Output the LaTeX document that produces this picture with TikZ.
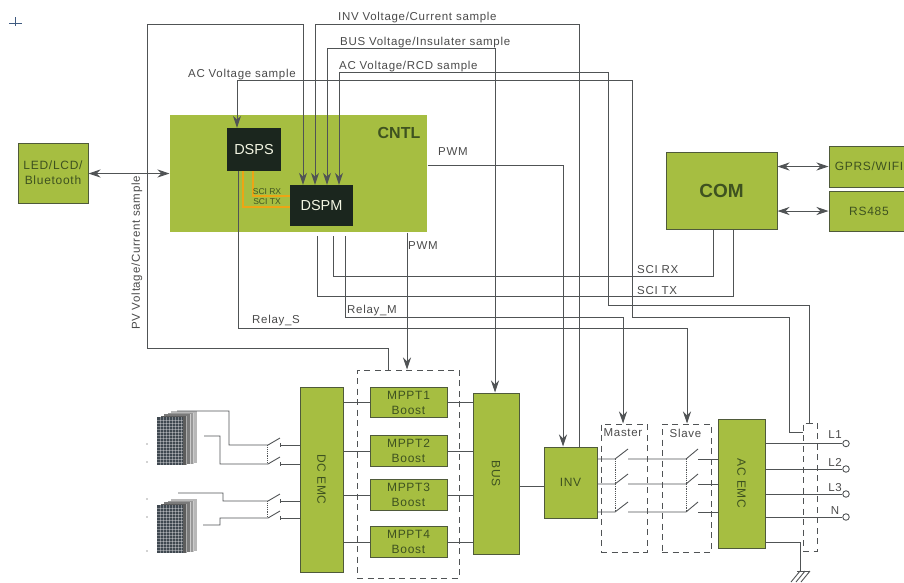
\documentclass[tikz,border=0pt]{standalone}
\usepackage{fontspec}
\setmainfont{Liberation Sans}
\newfontfamily\spacedfont[LetterSpace=6]{Liberation Sans}
\usetikzlibrary{arrows.meta}
\definecolor{boxgreen}{HTML}{A6BE41}
\definecolor{boxedge}{HTML}{4F5A3A}
\definecolor{boxtext}{HTML}{3E5220}
\definecolor{chipblack}{HTML}{1B261E}
\definecolor{wiregray}{HTML}{505355}
\definecolor{labelgray}{HTML}{4A4A4A}
\definecolor{sciorange}{HTML}{EDA515}
\definecolor{panelgray}{HTML}{3F4850}
\definecolor{markblue}{HTML}{3F5A80}
\tikzset{
    greenbox/.style={draw=boxedge, fill=boxgreen, line width=1pt, inner sep=0pt, text=boxtext, align=center, font=\spacedfont\fontsize{12}{15}\selectfont},
    chipbox/.style={fill=chipblack, inner sep=0pt, text=white!85!boxgreen, font=\fontsize{14.5}{17}\selectfont},
    zonebox/.style={draw=wiregray, line width=1pt, dash pattern=on 6pt off 4.5pt, inner sep=0pt},
    sigline/.style={draw=wiregray, line width=0.9pt},
    sciline/.style={draw=sciorange, line width=1.2pt},
    sigtext/.style={text=labelgray, inner sep=0pt, font=\spacedfont\fontsize{11.5}{13}\selectfont},
    outpin/.style={circle, draw=wiregray, line width=0.9pt, fill=white, minimum size=6.5pt, inner sep=0pt},
    pvpanel/.pic={
        \foreach \k/\g in {4/28, 3/40, 2/52, 1/64} {
            \fill[black!\g] (3.5*\k,-1.5*\k) rectangle (26+3.5*\k,48-0.5*\k);
            \draw[white, very thin, opacity=0.5] (26+3.5*\k,-1.5*\k) -- (26+3.5*\k,48-0.5*\k);
        }
        \fill[panelgray] (0,0) rectangle (26,48);
        \foreach \u in {3,6,...,24} {
            \draw[white, line width=0.25pt, opacity=0.35] (\u,0) -- (\u,48);
        }
        \foreach \u in {3,6,...,45} {
            \draw[white, line width=0.25pt, opacity=0.35] (0,\u) -- (26,\u);
        }
    }
}
\begin{document}
\begin{tikzpicture}[x=1pt, y=-1pt, >={Stealth[length=12pt, width=8pt]}]
        \useasboundingbox (0,0) rectangle (904,582);

        % Corner mark
        \draw[markblue, line width=1pt] (9,23) -- (22,23) (15,17) -- (15,26);

        % Upper boxes
        \node[greenbox, minimum width=70pt, minimum height=60pt] (led) at (53,173) {LED/LCD/\\Bluetooth};
        \node[greenbox, draw=none, minimum width=257pt, minimum height=117pt] (cntl) at (298.5,173.5) {};
        \node[chipbox, minimum width=54pt, minimum height=43pt] (dsps) at (254,149.5) {DSPS};
        \node[chipbox, minimum width=63pt, minimum height=41pt] (dspm) at (321.5,205.5) {DSPM};
        \node[text=boxtext, inner sep=0pt, font=\fontsize{16}{18}\selectfont\bfseries] (cntllabel) at (399,133) {CNTL};
        \node[greenbox, font=\fontsize{19}{21}\selectfont\bfseries, minimum width=111pt, minimum height=77pt] (com) at (721.5,190.5) {COM};
        \node[greenbox, minimum width=80pt, minimum height=41pt] (gprs) at (869,166.5) {GPRS/WIFI};
        \node[greenbox, minimum width=80pt, minimum height=40pt] (rs485) at (869,211) {RS485};

        % Lower boxes
        \node[zonebox, minimum width=102pt, minimum height=208pt] (mpptzone) at (408,474) {};
        \node[zonebox, minimum width=46pt, minimum height=128pt] (masterzone) at (624,488) {};
        \node[zonebox, minimum width=49pt, minimum height=128pt] (slavezone) at (686.5,488) {};
        \node[zonebox, minimum width=14pt, minimum height=128pt] (outzone) at (810,487) {};
        \node[greenbox, minimum width=43pt, minimum height=185pt] (dcemc) at (321.5,479.5) {\rotatebox{-90}{DC EMC}};
        \foreach \i/\y in {1/402.5, 2/451, 3/495, 4/542} {
            \node[greenbox, minimum width=77pt, minimum height=30.5pt] (mppt\i) at (408.5,\y) {MPPT\i\\Boost};
            \draw[sigline] (mppt\i.west) -- (dcemc.east |- mppt\i.west);
        }
        \node[greenbox, minimum width=46pt, minimum height=161pt] (bus) at (496,473.5) {\rotatebox{-90}{BUS}};
        \foreach \i in {1,...,4} {
            \draw[sigline] (mppt\i.east) -- (bus.west |- mppt\i.east);
        }
        \node[greenbox, minimum width=53pt, minimum height=71pt] (inv) at (570.5,482.5) {INV};
        \node[greenbox, minimum width=47pt, minimum height=129pt] (acemc) at (741.5,483.5) {\rotatebox{-90}{AC EMC}};
        \draw[sigline] (bus.east |- 0,486) -- (inv.west |- 0,486);
        \node[sigtext] (masterlabel) at (623,433) {Master};
        \node[sigtext] (slavelabel) at (685.5,433) {Slave};

        % Samples going to the DSPs
        \draw[sigline, ->] (mpptzone.north -| 388,0) |- (147,348) |- (303,24) -- (dspm.north -| 303,0);
        \draw[sigline, ->] (inv.north -| 579,0) |- (315,24) -- (dspm.north -| 315,0);
        \draw[sigline, ->] (495,60) -- (bus.north -| 495,0);
        \draw[sigline, ->] (495,60) |- (327,48) -- (dspm.north -| 327,0);
        \draw[sigline, ->] (outzone.north -| 809,0) |- (608,305) |- (339,72) -- (dspm.north -| 339,0);
        \draw[sigline, ->] (outzone.west |- 0,432) -| (789,317) -| (632,80) -| (dsps.north -| 237,0);
        \draw[sigline] (805.5,423) -- (812.5,423);

        % PWM and relay drive
        \draw[sigline, ->] (cntl.east |- 0,165) -| (inv.north -| 563,0);
        \draw[sigline, ->] (cntl.south -| 407,0) -- (mpptzone.north -| 407,0);
        \draw[sigline, ->] (dsps.south -| 238,0) |- (687,328) -- (slavezone.north -| 687,0);
        \coordinate (relaym) at (345,236);
        \coordinate (scirx) at (333,236);
        \coordinate (scitx) at (317,236);
        \draw[sigline, ->] (relaym) |- (623,317) -- (masterzone.north -| 623,0);
        \draw[sigline] (scirx) |- (713,276) -- (com.south -| 713,0);
        \draw[sigline] (scitx) |- (733,296) -- (com.south -| 733,0);

        % SCI link between the DSPs
        \draw[sciline] (dsps.south -| 243,0) |- (dspm.west |- 0,207);
        \draw[sciline] (dsps.south -| 253,0) |- (dspm.west |- 0,196);
        \node[text=boxtext, inner sep=0pt, font=\fontsize{8.5}{9}\selectfont] (sciinrx) at (267,192) {SCI RX};
        \node[text=boxtext, inner sep=0pt, font=\fontsize{8.5}{9}\selectfont] (sciintx) at (267,202) {SCI TX};

        % Two way links
        \draw[sigline, <->] (led.east |- cntl.west) -- (cntl.west);
        \draw[sigline, <->] (com.east |- gprs.west) -- (gprs.west);
        \draw[sigline, <->] (com.east |- rs485.west) -- (rs485.west);

        % Signal labels
        \node[sigtext, anchor=west] (invsample) at (338,18) {INV Voltage/Current sample};
        \node[sigtext, anchor=west] (bussample) at (340,43) {BUS Voltage/Insulater sample};
        \node[sigtext, anchor=west] (rcdsample) at (339,67) {AC Voltage/RCD sample};
        \node[sigtext, anchor=west] (acsample) at (188,75) {AC Voltage sample};
        \node[sigtext, rotate=90] (pvsample) at (137,253) {PV Voltage/Current sample};
        \node[sigtext, anchor=west] (pwmright) at (438,152) {PWM};
        \node[sigtext, anchor=west] (pwmlow) at (408,246) {PWM};
        \node[sigtext, anchor=west] (relaymlabel) at (347,311) {Relay\_M};
        \node[sigtext, anchor=west] (relayslabel) at (252,321) {Relay\_S};
        \node[sigtext, anchor=west] (rxlabel) at (637,270) {SCI RX};
        \node[sigtext, anchor=west] (txlabel) at (637,291) {SCI TX};

        % PV strings and DC switches
        \pic at (157,417) {pvpanel};
        \pic at (157,505) {pvpanel};
        \foreach \y in {444,462,499,517,551} {
            \fill[black!35] (147,\y) circle (0.8);
        }
        \draw[sigline] (177,411) -| (229,445) -- (268,445) -- (280,438);
        \draw[sigline] (204,436) -| (220,464) -- (268,464) -- (280,457);
        \draw[sigline] (178,493) -| (223,501) -- (268,501) -- (280,494);
        \draw[sigline] (203,525) -| (220,518) -- (268,518) -- (280,511);
        \foreach \y in {445,464,501,518} {
            \draw[sigline] (280,\y) -- (dcemc.west |- 0,\y);
            \draw[sigline] (280,\y-2) -- (280,\y+2);
        }
        \draw[sigline, densely dotted] (267,445) -- (267,464);
        \draw[sigline, densely dotted] (267,501) -- (267,518);

        % AC switches
        \foreach \y in {459,484,512} {
            \draw[sigline] (inv.east |- 0,\y) -- (615,\y) -- ++(13,-10);
            \draw[sigline] (628,\y) -- (686,\y) -- ++(12,-10);
            \draw[sigline] (698,\y) -- (acemc.west |- 0,\y);
        }
        \draw[sigline, densely dotted] (615,459) -- (615,512);
        \draw[sigline, densely dotted] (686,459) -- (686,512);

        % Outputs
        \foreach \n/\t/\y/\ly in {l1/L1/443.5/435, l2/L2/469/462, l3/L3/494/488, ln/N/517/511} {
            \node[outpin] (\n) at (846,\y) {};
            \draw[sigline] (acemc.east |- \n.west) -- (\n.west);
            \node[sigtext] (\n label) at (835,\ly) {\t};
        }

        % Earth
        \coordinate (earth) at (800,571);
        \draw[sigline] (acemc.east |- 0,542) -| (earth);
        \draw[sigline] (797,571) -- (810,571);
        \draw[sigline] (800,571) -- (791,582) (805,571) -- (796,582) (810,571) -- (801,582);
\end{tikzpicture}
\end{document}
